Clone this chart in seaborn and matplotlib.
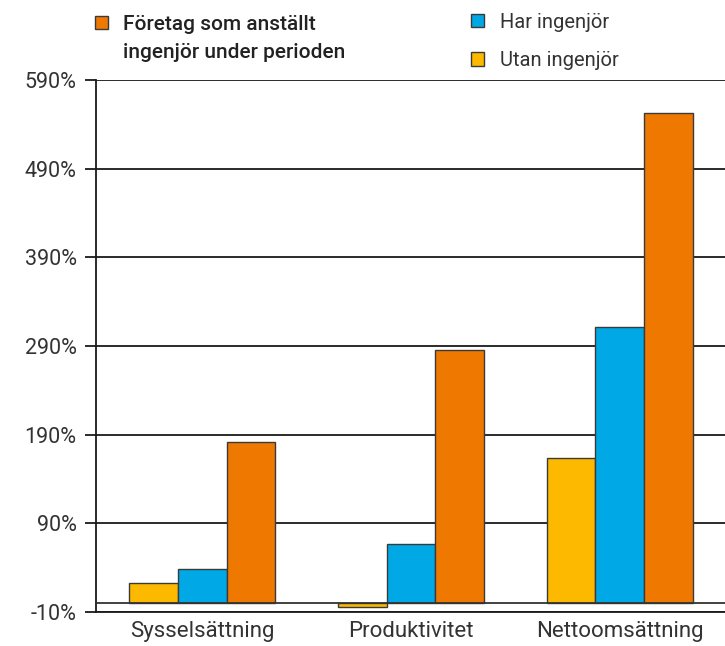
import matplotlib
matplotlib.use("Agg")
import matplotlib.pyplot as plt
from matplotlib.patches import Patch
import seaborn as sns
import pandas as pd

categories = ["Sysselsättning", "Produktivitet", "Nettoomsättning"]
series_names = ["Utan ingenjör", "Har ingenjör", "Företag som anställt\ningenjör under perioden"]
utan = [22, -5, 164]
har = [38, 67, 311]
foretag = [182, 285, 553]
yticks = [-10, 90, 190, 290, 390, 490, 590]
ytick_labels = ["-10%", "90%", "190%", "290%", "390%", "490%", "590%"]
colors = ["#FCB900", "#00A8E6", "#EF7800"]

rows = []
for s, vals in zip(series_names, [utan, har, foretag]):
    for c, v in zip(categories, vals):
        rows.append({"cat": c, "series": s, "value": v})
df = pd.DataFrame(rows)

sns.set_style("white")
plt.rcParams["font.family"] = ["Roboto", "DejaVu Sans"]

fig = plt.figure(figsize=(7.25, 6.46), dpi=100)
ax = fig.add_axes([0.1325, 0.053, 0.872, 0.823])

sns.barplot(data=df, x="cat", y="value", hue="series", order=categories,
            hue_order=series_names, palette=colors, width=0.7, saturation=1,
            edgecolor="#3a3a3a", linewidth=1.0, ax=ax, legend=False, zorder=3)

ax.set_ylim(-10, 590)
ax.set_xlim(-0.51, 2.52)
ax.set_yticks(yticks)
ax.set_yticklabels(ytick_labels)
for y in yticks:
    ax.axhline(y, color="#1a1a1a", linewidth=1.3, zorder=1)
ax.axhline(0, color="#333333", linewidth=1.3, zorder=4)
ax.set_xlabel("")
ax.set_ylabel("")
for side in ["top", "right"]:
    ax.spines[side].set_visible(False)
for side in ["left", "bottom"]:
    ax.spines[side].set_color("#1a1a1a")
    ax.spines[side].set_linewidth(1.3)
ax.tick_params(axis="y", which="both", left=True, length=8, width=1.3,
               color="#1a1a1a", labelsize=15.5, labelcolor="#333333", pad=6)
ax.tick_params(axis="x", bottom=False, labelsize=16, labelcolor="#333333", pad=3)

h_or = Patch(facecolor=colors[2], edgecolor="#3a3a3a", linewidth=1.0)
h_none = Patch(facecolor="none", edgecolor="none")
h_bl = Patch(facecolor=colors[1], edgecolor="#3a3a3a", linewidth=1.0)
h_ye = Patch(facecolor=colors[0], edgecolor="#3a3a3a", linewidth=1.0)

line1, line2 = series_names[2].split("\n")
leg1 = fig.legend([h_or, h_none], [line1, line2], loc="upper left",
                  bbox_to_anchor=(0.111, 1.0), frameon=False,
                  prop={"size": 15, "weight": "medium"}, handlelength=0.6,
                  handleheight=0.6, handletextpad=0.75, labelspacing=0.45,
                  borderaxespad=0.3)
for t in leg1.get_texts():
    t.set_color("#222222")
leg2 = fig.legend([h_bl, h_ye], [series_names[1], series_names[0]], loc="upper left",
                  bbox_to_anchor=(0.63, 1.002), frameon=False,
                  prop={"size": 14.5}, handlelength=0.65,
                  handleheight=0.65, handletextpad=0.8, labelspacing=0.95,
                  borderaxespad=0.3)
for t in leg2.get_texts():
    t.set_color("#333333")

fig.savefig("out.png", dpi=100)
